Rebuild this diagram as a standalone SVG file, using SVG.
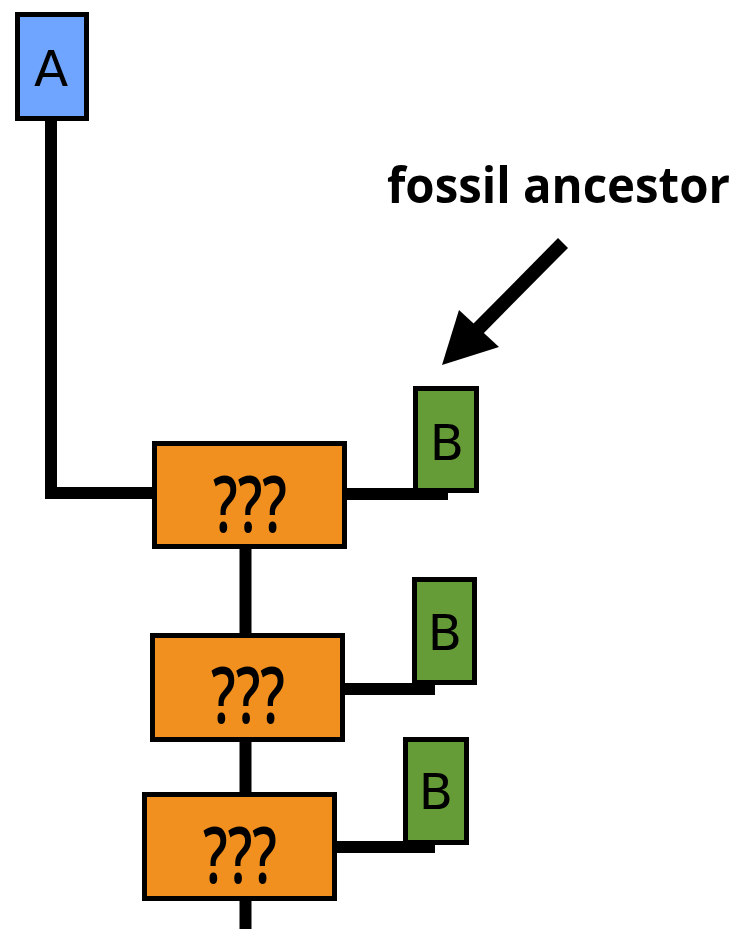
<svg xmlns="http://www.w3.org/2000/svg" width="738" height="929" viewBox="0 0 738 929">
<style>
.conn{fill:none;stroke:#000;stroke-width:12;stroke-linejoin:miter;stroke-linecap:butt}
.box{stroke:#000;stroke-width:5}
.blue{fill:#70A5FF}
.orange{fill:#F1901E}
.green{fill:#659C37}
.lbl{font-family:"DejaVu Sans",sans-serif;font-size:50px;fill:#000;text-anchor:middle}
.q{font-family:"Open Sans","Liberation Sans",sans-serif;font-weight:600;font-size:78px;fill:#000;text-anchor:middle}
.note{font-family:"Open Sans","Liberation Sans",sans-serif;font-weight:bold;font-size:50px;fill:#000}
</style>
<rect width="738" height="929" fill="#fff"/>
<g id="connectors">
<path class="conn" d="M51,121 V493 H153"/>
<path class="conn" d="M347,494 H448"/>
<path class="conn" d="M245.5,549 V634"/>
<path class="conn" d="M345,689 H435"/>
<path class="conn" d="M245.5,742 V793"/>
<path class="conn" d="M337,847 H435"/>
<path class="conn" d="M245.5,901 V929"/>
</g>
<g id="A">
<rect class="box blue" x="17.5" y="14.5" width="69" height="104"/>
<text class="lbl" x="51" y="86">A</text>
</g>
<g id="q1">
<rect class="box orange" x="154.5" y="443.5" width="190" height="103"/>
<text class="q" x="250" y="532" textLength="74" lengthAdjust="spacingAndGlyphs">???</text>
</g>
<g id="q2">
<rect class="box orange" x="152.5" y="635.5" width="190" height="104"/>
<text class="q" x="248" y="723" textLength="74" lengthAdjust="spacingAndGlyphs">???</text>
</g>
<g id="q3">
<rect class="box orange" x="144.5" y="794.5" width="190" height="104"/>
<text class="q" x="240" y="883" textLength="74" lengthAdjust="spacingAndGlyphs">???</text>
</g>
<g id="B1">
<rect class="box green" x="415.5" y="388.5" width="61" height="102"/>
<text class="lbl" x="447" y="460">B</text>
</g>
<g id="B2">
<rect class="box green" x="414.5" y="579.5" width="60" height="103"/>
<text class="lbl" x="445" y="650">B</text>
</g>
<g id="B3">
<rect class="box green" x="405.5" y="739.5" width="61" height="103"/>
<text class="lbl" x="436" y="809">B</text>
</g>
<g id="fossil-note">
<text class="note" x="387" y="203" textLength="343" lengthAdjust="spacingAndGlyphs">fossil ancestor</text>
<line x1="563" y1="243" x2="476" y2="331" stroke="#000" stroke-width="14"/>
<polygon points="442,365 459,310 499,347" fill="#000"/>
</g>
</svg>
